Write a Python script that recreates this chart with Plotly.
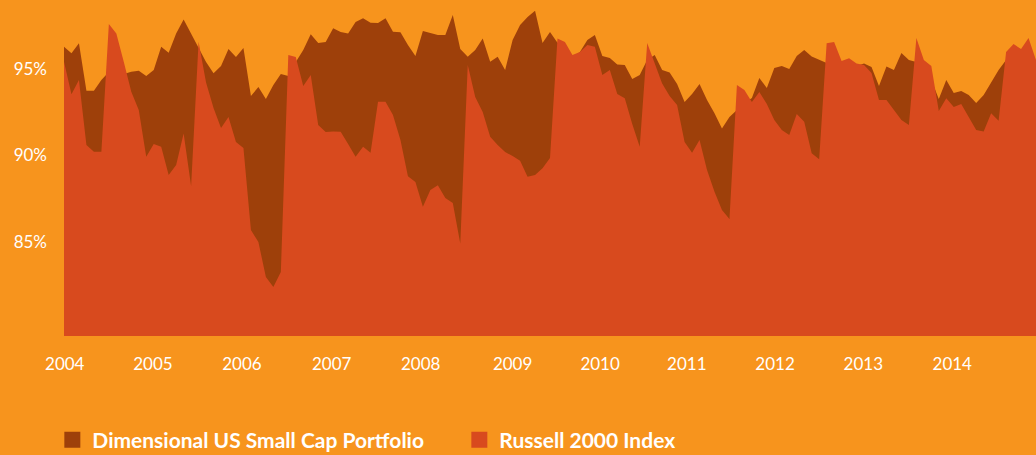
import plotly.graph_objects as go

# Month index 0 = Jan 2004 (monthly observations)
months = list(range(131))

dimensional = [
    96.29, 95.91, 96.49, 93.75, 93.75, 94.36, 94.83, 94.71, 94.71, 94.84,
    94.90, 94.60, 94.94, 96.29, 95.94, 97.06, 97.87, 97.02, 96.21, 95.40,
    94.75, 95.17, 96.16, 95.69, 96.21, 93.44, 93.96, 93.27, 94.08, 94.71,
    94.60, 95.40, 96.10, 97.01, 96.50, 96.56, 97.35, 97.14, 97.06, 97.72,
    97.93, 97.68, 97.66, 97.93, 97.16, 97.12, 96.39, 95.75, 97.20, 97.06,
    96.96, 96.96, 98.12, 96.16, 95.71, 96.10, 96.77, 95.42, 95.71, 94.94,
    96.68, 97.54, 98.01, 98.37, 96.50, 97.14, 96.52, 96.33, 95.69, 95.98,
    96.68, 96.96, 95.75, 95.64, 95.26, 95.23, 94.42, 94.65, 95.52, 95.81,
    94.94, 94.80, 94.13, 93.09, 93.55, 94.13, 93.21, 92.44, 91.57, 92.23,
    92.63, 93.03, 93.32, 94.48, 93.90, 95.06, 95.17, 95.00, 95.75, 96.10,
    95.72, 95.52, 95.35, 95.29, 95.17, 95.29, 95.17, 95.32, 95.12, 94.02,
    95.14, 94.94, 95.92, 95.52, 95.40, 94.94, 94.36, 93.27, 94.36, 93.61,
    93.73, 93.50, 93.03, 93.50, 94.25, 94.94, 95.52, 95.81, 95.98, 96.39,
    95.40,
]

russell = [
    95.42, 93.54, 94.36, 90.61, 90.22, 90.22, 97.60, 97.06, 95.40, 93.69,
    92.63, 89.93, 90.66, 90.51, 88.87, 89.45, 91.28, 88.24, 96.58, 94.22,
    92.75, 91.59, 92.23, 90.78, 90.43, 85.69, 85.00, 82.98, 82.40, 83.27,
    95.81, 95.69, 94.02, 94.65, 91.76, 91.36, 91.39, 91.38, 90.66, 89.93,
    90.51, 90.16, 93.11, 93.11, 92.34, 90.90, 88.81, 88.47, 87.04, 88.01,
    88.29, 87.54, 87.25, 84.92, 95.23, 93.38, 92.51, 91.09, 90.61, 90.20,
    89.97, 89.70, 88.77, 88.87, 89.26, 89.86, 96.77, 96.56, 95.81, 95.98,
    96.39, 96.29, 94.65, 94.94, 93.55, 93.31, 91.82, 90.51, 96.50, 95.29,
    94.17, 93.44, 92.92, 90.78, 90.16, 90.90, 89.16, 87.91, 86.85, 86.33,
    94.08, 93.79, 93.09, 93.67, 92.98, 92.05, 91.47, 91.19, 92.40, 91.95,
    90.13, 89.78, 96.49, 96.56, 95.46, 95.62, 95.32, 95.23, 94.77, 93.21,
    93.21, 92.63, 92.05, 91.76, 96.79, 95.52, 95.17, 92.57, 93.31, 92.80,
    92.98, 92.23, 91.47, 91.39, 92.44, 92.01, 95.98, 96.44, 96.16, 96.79,
    95.52,
]

year_labels = ["2004", "2005", "2006", "2007", "2008", "2009",
               "2010", "2011", "2012", "2013", "2014"]
year_positions = [0.1, 11.9, 23.8, 35.8, 47.7, 60.0, 71.7, 83.3, 95.1, 106.9, 118.8]

y_ticks = [85, 90, 95]
y_tick_labels = ["85%", "90%", "95%"]

BG = "#F7941D"
BROWN = "#9E400A"
RED = "#D84A1E"

fig = go.Figure()

fig.add_trace(go.Scatter(
    x=months, y=dimensional, mode="lines", line=dict(width=0, color=BROWN),
    fill="tozeroy", fillcolor=BROWN, showlegend=False,
    name="Dimensional US Small Cap Portfolio"))
fig.add_trace(go.Scatter(
    x=months, y=russell, mode="lines", line=dict(width=0, color=RED),
    fill="tozeroy", fillcolor=RED, showlegend=False,
    name="Russell 2000 Index"))

# legend entries (square swatches)
fig.add_trace(go.Scatter(
    x=[None], y=[None], mode="markers",
    marker=dict(symbol="square", size=19, color=BROWN),
    name="Dimensional US Small Cap Portfolio"))
fig.add_trace(go.Scatter(
    x=[None], y=[None], mode="markers",
    marker=dict(symbol="square", size=19, color=RED),
    name="Russell 2000 Index"))

fig.update_layout(
    width=1036, height=455,
    paper_bgcolor=BG, plot_bgcolor=BG,
    margin=dict(l=64, r=0, t=0, b=119, autoexpand=False),
    font=dict(family="Lato", color="white", size=17),
    showlegend=True,
    legend=dict(
        orientation="h", x=-0.012, xanchor="left", y=-0.31, yanchor="middle",
        bgcolor="rgba(0,0,0,0)", font=dict(size=21, color="white", family="Lato", weight=700),
        entrywidth=362, entrywidthmode="pixels", itemsizing="trace",
    ),
    xaxis=dict(
        range=[0, 130], showgrid=False, zeroline=False, showline=False,
        tickmode="array", tickvals=year_positions, ticktext=year_labels,
        ticks="", ticklabelstandoff=16,
        tickfont=dict(size=17, color="white", family="Lato"),
    ),
    yaxis=dict(
        range=[79.57, 98.99], showgrid=False, zeroline=False, showline=False,
        tickmode="array", tickvals=y_ticks, ticktext=y_tick_labels,
        ticks="", ticklabelstandoff=16,
        tickfont=dict(size=17, color="white", family="Lato"),
    ),
)

fig.write_html(
    "out.html",
    config={"displayModeBar": False},
    post_script="document.body.style.margin='0';document.body.style.background='" + BG + "';",
)
